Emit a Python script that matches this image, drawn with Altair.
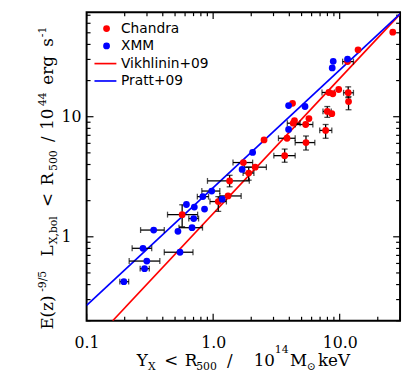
import altair as alt
import pandas as pd

# ---------------- data ----------------
# Chandra (red)
chandra_x = [0.569, 1.098, 1.312, 1.350, 1.910, 2.149, 1.734, 2.525, 3.675, 3.836, 4.293, 5.388, 5.417, 7.745,
             4.240, 5.715, 4.394, 7.983, 8.667, 8.215, 8.825, 9.822, 11.68, 11.75, 11.54, 13.97, 26.27]
chandra_y = [1.530, 1.966, 2.189, 2.921, 3.396, 3.80, 4.154, 6.41, 4.74, 6.616, 8.83, 8.614, 6.091, 7.69,
             12.94, 9.645, 9.29, 11.07, 10.6, 15.92, 15.54, 16.85, 15.83, 13.36, 28.77, 36.07, 50.6]
chandra_xlo = [0.436, 0.944, 1.129, 0.902, 1.725, 1.766, 1.435, None, 3.018, 3.283, 3.857, 4.449, 4.449, 6.957,
               None, None, None, 7.379, None, 7.247, None, None, 10.74, None, 10.55, None, None]
chandra_xhi = [0.754, 1.273, 1.665, 1.931, 2.10, 2.635, 2.051, None, 4.449, 4.449, 4.866, 6.138, 6.36, 8.667,
               None, None, None, 8.575, None, 9.096, None, None, 12.85, None, 12.85, None, None]
chandra_ylo = [1.214, 1.628, None, 2.609, 2.96, None, None, None, 4.178, None, None, None, 5.278, 6.616,
               None, None, None, 9.88, None, None, None, None, 14.41, 11.43, None, None, None]
chandra_yhi = [1.848, 2.161, None, 3.252, 3.80, None, None, None, 5.378, None, None, None, 6.91, 8.614,
               None, None, None, 12.16, None, None, None, None, 17.73, 14.69, None, None, None]

# XMM (blue)
xmm_x = [0.197, 0.287, 0.299, 0.279, 0.339, 0.547, 0.527, 0.681, 0.702, 0.615, 0.710, 0.855, 0.829, 0.974,
         1.179, 1.694, 2.051, 3.947, 3.947, 5.32, 8.89, 8.73, 11.54]
xmm_y = [0.423, 0.543, 0.628, 0.802, 1.138, 0.744, 1.111, 1.191, 1.419, 1.858, 1.769, 1.703, 2.161, 2.405,
         2.057, 3.64, 5.045, 7.84, 12.39, 12.16, 28.93, 25.5, 30.2]
xmm_xlo = [0.183, 0.265, 0.217, 0.229, 0.267, 0.411, None, 0.537, 0.642, None, None, None, 0.75, 0.814,
           None, None, None, None, None, None, None, None, None]
xmm_xhi = [0.215, 0.313, 0.379, 0.327, 0.411, 0.693, None, 0.824, 0.767, None, None, None, 0.92, 1.129,
           None, None, None, None, None, None, None, None, None]

# fitted relations (end points)
vikh_x = [0.1607, 30.0]
vikh_y = [0.2, 71.6]
pratt_x = [0.1, 30.0]
pratt_y = [0.268, 71.9]

# axis ticks
x_major = [0.1, 1, 10]
x_minor = [0.2, 0.3, 0.4, 0.5, 0.6, 0.7, 0.8, 0.9, 2, 3, 4, 5, 6, 7, 8, 9, 20, 30]
y_major = [1, 10]
y_minor = [0.2, 0.3, 0.4, 0.5, 0.6, 0.7, 0.8, 0.9, 2, 3, 4, 5, 6, 7, 8, 9, 20, 30, 40, 50, 60, 70]

legend_labels = ["Chandra", "XMM", "Vikhlinin+09", "Pratt+09"]

# ---------------- chart ----------------
W, H = 319, 314
RED, BLUE = "#ff0000", "#0000ff"
SERIF = "DejaVu Serif"

xs = alt.Scale(type="log", domain=[0.1, 30], nice=False)
ys = alt.Scale(type="log", domain=[0.2, 74.2], nice=False)
xaxis = alt.Axis(values=x_major, format=".1f", ticks=False, tickSize=0, domain=False, grid=False,
                 labelFont=SERIF, labelFontSize=16, labelColor="black", labelPadding=14,
                 labelFlush=False, labelOverlap=False, title=None)
yaxis = alt.Axis(values=y_major, format="d", ticks=False, tickSize=0, domain=False, grid=False,
                 labelFont=SERIF, labelFontSize=16, labelColor="black", labelPadding=26,
                 labelAlign="left", labelBaseline="middle", labelFlush=False, labelOverlap=False, title=None)


def X(f):
    return alt.X(f, type="quantitative", scale=xs, axis=xaxis)


def Y(f):
    return alt.Y(f, type="quantitative", scale=ys, axis=yaxis)


def series_df(x, y, xlo=None, xhi=None, ylo=None, yhi=None):
    n = len(x)
    return pd.DataFrame({
        "x": x, "y": y,
        "xlo": xlo if xlo else [None] * n, "xhi": xhi if xhi else [None] * n,
        "ylo": ylo if ylo else [None] * n, "yhi": yhi if yhi else [None] * n,
    })


cdf = series_df(chandra_x, chandra_y, chandra_xlo, chandra_xhi, chandra_ylo, chandra_yhi)
xdf = series_df(xmm_x, xmm_y, xmm_xlo, xmm_xhi)
alldf = pd.concat([cdf, xdf], ignore_index=True)
xe = alldf.dropna(subset=["xlo", "xhi"])
ye = alldf.dropna(subset=["ylo", "yhi"])
xcaps = pd.concat([pd.DataFrame({"v": xe["xlo"], "y": xe["y"]}), pd.DataFrame({"v": xe["xhi"], "y": xe["y"]})])
ycaps = pd.concat([pd.DataFrame({"x": ye["x"], "v": ye["ylo"]}), pd.DataFrame({"x": ye["x"], "v": ye["yhi"]})])

layers = []

# inward ticks on all four sides
def tick_layers(vals, axis, length):
    d = pd.DataFrame({"v": vals})
    out = []
    if axis == "x":
        out.append(alt.Chart(d).mark_rule(color="black", strokeWidth=1.2).encode(
            x=X("v"), y=alt.value(H), y2=alt.value(H - length)))
        out.append(alt.Chart(d).mark_rule(color="black", strokeWidth=1.2).encode(
            x=X("v"), y=alt.value(0), y2=alt.value(length)))
    else:
        out.append(alt.Chart(d).mark_rule(color="black", strokeWidth=1.2).encode(
            y=Y("v"), x=alt.value(0), x2=alt.value(length)))
        out.append(alt.Chart(d).mark_rule(color="black", strokeWidth=1.2).encode(
            y=Y("v"), x=alt.value(W), x2=alt.value(W - length)))
    return out


layers += tick_layers(x_major, "x", 7)
layers += tick_layers(x_minor, "x", 4)
layers += tick_layers(y_major, "y", 7)
layers += tick_layers(y_minor, "y", 4)

# fitted lines
layers.append(alt.Chart(pd.DataFrame({"x": vikh_x, "y": vikh_y})).mark_line(
    color=RED, strokeWidth=1.7, clip=True).encode(x=X("x"), y=Y("y")))
layers.append(alt.Chart(pd.DataFrame({"x": pratt_x, "y": pratt_y})).mark_line(
    color=BLUE, strokeWidth=1.7, clip=True).encode(x=X("x"), y=Y("y")))

# error bars
layers.append(alt.Chart(xe).mark_rule(color="black", strokeWidth=1.3).encode(
    x=X("xlo"), x2="xhi", y=Y("y")))
layers.append(alt.Chart(xcaps).mark_tick(color="black", orient="vertical", size=6, thickness=1.3).encode(
    x=X("v"), y=Y("y")))
layers.append(alt.Chart(ye).mark_rule(color="black", strokeWidth=1.3).encode(
    x=X("x"), y=Y("ylo"), y2="yhi"))
layers.append(alt.Chart(ycaps).mark_tick(color="black", orient="horizontal", size=6, thickness=1.3).encode(
    x=X("x"), y=Y("v")))

# points
layers.append(alt.Chart(cdf).mark_circle(color=RED, size=48, opacity=1).encode(x=X("x"), y=Y("y")))
layers.append(alt.Chart(xdf).mark_circle(color=BLUE, size=48, opacity=1).encode(x=X("x"), y=Y("y")))

one = pd.DataFrame({"a": [0]})

# legend
layers.append(alt.Chart(one).mark_circle(color=RED, size=48, opacity=1).encode(x=alt.value(20.3), y=alt.value(16.7)))
layers.append(alt.Chart(one).mark_circle(color=BLUE, size=48, opacity=1).encode(x=alt.value(20.3), y=alt.value(34.3)))
layers.append(alt.Chart(one).mark_rule(color=RED, strokeWidth=1.7).encode(
    x=alt.value(8), x2=alt.value(30.3), y=alt.value(52.3)))
layers.append(alt.Chart(one).mark_rule(color=BLUE, strokeWidth=1.7).encode(
    x=alt.value(8), x2=alt.value(30.3), y=alt.value(70)))
for lab, yy in zip(legend_labels, [16.7, 34.3, 52.3, 70]):
    layers.append(alt.Chart(one).mark_text(text=lab, font="DejaVu Sans", fontSize=14, align="left",
                                           baseline="middle", color="black").encode(
        x=alt.value(35), y=alt.value(yy)))

# axis titles built from pieces (sub/superscripts)
MAIN, SMALL = 17, 11
x_title_parts = [("Y", 51, "m"), ("X", 62.5, "b"), ("<", 79, "m"), ("R", 100, "m"), ("500", 111.5, "b"),
                 ("/", 143, "m"), ("10", 170, "m"), ("14", 191.5, "p"), ("M", 207, "m"), ("\u2299", 224, "b"),
                 ("keV", 235.5, "m")]
x_base = {"m": 360, "b": 364, "p": 347}
for t, xx, k in x_title_parts:
    layers.append(alt.Chart(one).mark_text(text=t, font=SERIF, fontSize=MAIN if k == "m" else SMALL,
                                           align="left", baseline="alphabetic", color="black").encode(
        x=alt.value(xx), y=alt.value(x_base[k])))

y_title_parts = [("E(z)", 323, "m"), ("-9/5", 284.6, "p"), ("L", 248.5, "m"), ("X,bol", 236.1, "b"),
                 ("<", 198.2, "m"), ("R", 176.3, "m"), ("500", 161.6, "b"), ("/", 132.1, "m"),
                 ("10", 119.7, "m"), ("44", 95.5, "p"), ("erg", 73.8, "m"), ("s", 35.2, "m"), ("-1", 25.5, "p")]
y_base = {"m": -34, "b": -30, "p": -41}
for t, yy, k in y_title_parts:
    layers.append(alt.Chart(one).mark_text(text=t, font=SERIF, fontSize=MAIN if k == "m" else SMALL,
                                           align="left", baseline="alphabetic", angle=270, color="black").encode(
        x=alt.value(y_base[k]), y=alt.value(yy)))

chart = alt.layer(*layers).properties(
    width=W, height=H,
    padding={"left": 80, "top": 1, "right": 3, "bottom": 55},
    autosize=alt.AutoSizeParams(type="none"),
    background="white",
).configure_view(stroke="black", strokeWidth=2)

chart.save("out.html", embed_options={"renderer": "svg", "actions": False})
